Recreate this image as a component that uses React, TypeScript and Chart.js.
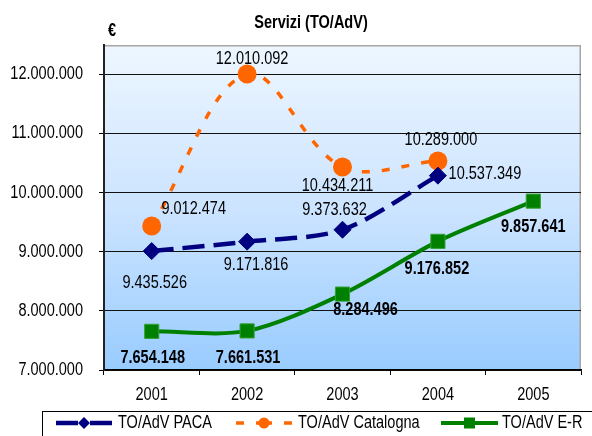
import React, { useEffect, useRef } from 'react';
import { Chart, registerables } from 'chart.js';

Chart.register(...registerables);

// ---- data ----
const categories = ['2001', '2002', '2003', '2004', '2005'];
const seriesNames = ['TO/AdV PACA', 'TO/AdV Catalogna', 'TO/AdV E-R'];
const pacaValues = [9012474, 9171816, 9373632, 10289000, null];
const catalognaValues = [9435526, 12010092, 10434211, 10537349, null];
const erValues = [7654148, 7661531, 8284496, 9176852, 9857641];
// data labels as printed in the original chart
const pacaLabels = ['9.435.526', '9.171.816', '9.373.632', '10.537.349'];
const catalognaLabels = ['9.012.474', '12.010.092', '10.434.211', '10.289.000'];
const erLabels = ['7.654.148', '7.661.531', '8.284.496', '9.176.852', '9.857.641'];
const yTickValues = [7000000, 8000000, 9000000, 10000000, 11000000, 12000000];
const yTickLabels = ['7.000.000', '8.000.000', '9.000.000', '10.000.000', '11.000.000', '12.000.000'];
const yMin = 7000000;
const yMax = 12500000;
const titleText = 'Servizi (TO/AdV)';
const unitText = '€';

// ---- style ----
const FONT = "'Liberation Sans', Arial, sans-serif";
const FS = 17.5;
const SX = 0.83; // horizontal condensing of text (narrow face)
const colors = ['#000080', '#FF6600', '#008000'];
const labelTexts = [pacaLabels, catalognaLabels, erLabels];
const labelBold = [false, false, true];
const labelOffsets = [
  [[3, 32], [9, 24], [-8, -20], [47, -1]],
  [[42, -17], [5, -15], [-5, 19], [3, -21]],
  [[1, 27], [1, 27], [23, 16], [-1, 28], [0, 26]],
];
const legendItems = [
  { x0: 56, x1: 112, tx: 118 },
  { x0: 236, x1: 292, tx: 298 },
  { x0: 441, x1: 498, tx: 502 },
];

function drawText(ctx: CanvasRenderingContext2D, txt: string, x: number, y: number, align: CanvasTextAlign, bold = false) {
  ctx.save();
  ctx.translate(x, y);
  ctx.scale(SX, 1);
  ctx.fillStyle = '#000';
  ctx.font = `${bold ? 'bold ' : ''}${FS}px ${FONT}`;
  ctx.textAlign = align;
  ctx.textBaseline = 'middle';
  ctx.fillText(txt, 0, 0);
  ctx.restore();
}

function drawMarker(ctx: CanvasRenderingContext2D, style: string, x: number, y: number, r: number, fill: string) {
  ctx.fillStyle = fill;
  ctx.beginPath();
  if (style === 'rectRot') {
    ctx.moveTo(x - r, y);
    ctx.lineTo(x, y - r);
    ctx.lineTo(x + r, y);
    ctx.lineTo(x, y + r);
    ctx.closePath();
  } else if (style === 'circle') {
    ctx.arc(x, y, r, 0, Math.PI * 2);
  } else {
    ctx.rect(x - r, y - r, 2 * r, 2 * r);
  }
  ctx.fill();
}

const decor = {
  id: 'decor',
  beforeDraw(chart: any) {
    const { ctx, chartArea: a } = chart;
    ctx.save();
    const g = ctx.createLinearGradient(0, a.top, 0, a.bottom);
    g.addColorStop(0, '#EDF6FF');
    g.addColorStop(0.5, '#CCE4FF');
    g.addColorStop(1, '#99CCFF');
    ctx.fillStyle = g;
    ctx.fillRect(a.left, a.top, a.right - a.left, a.bottom - a.top);
    ctx.strokeStyle = '#A6A6A6';
    ctx.lineWidth = 1.5;
    ctx.beginPath();
    ctx.moveTo(a.left, a.top + 0.75);
    ctx.lineTo(a.right - 0.75, a.top + 0.75);
    ctx.lineTo(a.right - 0.75, a.bottom);
    ctx.stroke();
    ctx.restore();
    drawText(ctx, titleText, 311, 23, 'center', true);
    drawText(ctx, unitText, 112, 31, 'center', true);
  },
  afterDatasetsDraw(chart: any) {
    const { ctx } = chart;
    chart.data.datasets.forEach((ds: any, i: number) => {
      const meta = chart.getDatasetMeta(i);
      ds.data.forEach((v: any, j: number) => {
        if (v == null) return;
        const el = meta.data[j];
        const off = labelOffsets[i][j];
        const txt = labelTexts[i][j];
        if (!el || !off || !txt) return;
        drawText(ctx, txt, el.x + off[0], el.y + off[1], 'center', labelBold[i]);
      });
    });
  },
  afterDraw(chart: any) {
    const { ctx, scales } = chart;
    // axis tick labels
    const ys = scales.y;
    yTickValues.forEach((v, i) => {
      drawText(ctx, yTickLabels[i], 83, ys.getPixelForValue(v), 'right');
    });
    const xs = scales.x;
    categories.forEach((c, i) => {
      drawText(ctx, c, xs.getPixelForValue(i), 395, 'center');
    });
    // legend
    ctx.save();
    ctx.strokeStyle = '#000';
    ctx.lineWidth = 1;
    ctx.strokeRect(42.5, 411.5, 600, 40);
    const ly = 423;
    chart.data.datasets.forEach((ds: any, i: number) => {
      const it = legendItems[i];
      const mid = (it.x0 + it.x1) / 2;
      ctx.strokeStyle = ds.borderColor;
      ctx.lineWidth = ds.borderWidth;
      ctx.setLineDash(ds.borderDash || []);
      ctx.lineCap = 'butt';
      ctx.beginPath();
      ctx.moveTo(it.x0, ly);
      ctx.lineTo(mid, ly);
      ctx.stroke();
      ctx.beginPath();
      ctx.moveTo(it.x1, ly);
      ctx.lineTo(mid, ly);
      ctx.stroke();
      ctx.setLineDash([]);
      const r = ds.pointStyle === 'rect' ? 5.5 : ds.pointStyle === 'circle' ? 5.5 : 6;
      drawMarker(ctx, ds.pointStyle, mid, ly, r, ds.pointBackgroundColor);
      drawText(ctx, seriesNames[i], it.tx, ly, 'left');
    });
    ctx.restore();
  },
};

export default function App() {
  const ref = useRef<HTMLCanvasElement | null>(null);
  useEffect(() => {
    if (!ref.current) return;
    const chart = new Chart(ref.current, {
      type: 'line',
      data: {
        labels: categories,
        datasets: [
          {
            label: seriesNames[0],
            data: pacaValues,
            borderColor: colors[0],
            borderWidth: 4.5,
            borderDash: [22, 9],
            tension: 0.3,
            pointStyle: 'rectRot',
            pointRadius: 8.5,
            pointBackgroundColor: colors[0],
            pointBorderColor: colors[0],
            pointBorderWidth: 1,
          },
          {
            label: seriesNames[1],
            data: catalognaValues,
            borderColor: colors[1],
            borderWidth: 3.5,
            borderDash: [8, 12],
            tension: 0.35,
            pointStyle: 'circle',
            pointRadius: 9.5,
            pointBackgroundColor: colors[1],
            pointBorderColor: colors[1],
            pointBorderWidth: 0,
          },
          {
            label: seriesNames[2],
            data: erValues,
            borderColor: colors[2],
            borderWidth: 4,
            tension: 0.3,
            pointStyle: 'rect',
            pointRadius: 10,
            pointBackgroundColor: colors[2],
            pointBorderColor: '#33A033',
            pointBorderWidth: 1,
          },
        ] as any,
      },
      options: {
        animation: false,
        responsive: false,
        layout: { padding: { top: 45, right: 4, left: 0, bottom: 0 } },
        plugins: { legend: { display: false }, title: { display: false }, tooltip: { enabled: false } },
        scales: {
          x: {
            type: 'category',
            offset: true,
            grid: { offset: true, drawOnChartArea: false, tickLength: 5, color: '#000', tickColor: '#000' },
            border: { color: '#000', width: 1.5 },
            ticks: { display: false },
            afterFit: (s: any) => { s.height = 66; },
          },
          y: {
            type: 'linear',
            min: yMin,
            max: yMax,
            ticks: { display: false, autoSkip: false },
            afterBuildTicks: (s: any) => {
              s.ticks = yTickValues.map((v) => ({ value: v }));
            },
            grid: { color: '#111', lineWidth: 1, tickLength: 5, tickColor: '#000' },
            border: { color: '#222', width: 2 },
            afterFit: (s: any) => { s.width = 104; },
          },
        },
      },
      plugins: [decor],
    });
    return () => chart.destroy();
  }, []);
  return (
    <div style={{ position: 'absolute', left: 0, top: 0, width: 592, height: 436, background: '#fff' }}>
      <canvas ref={ref} width={592} height={436} style={{ display: 'block', width: 592, height: 436 }} />
    </div>
  );
}
